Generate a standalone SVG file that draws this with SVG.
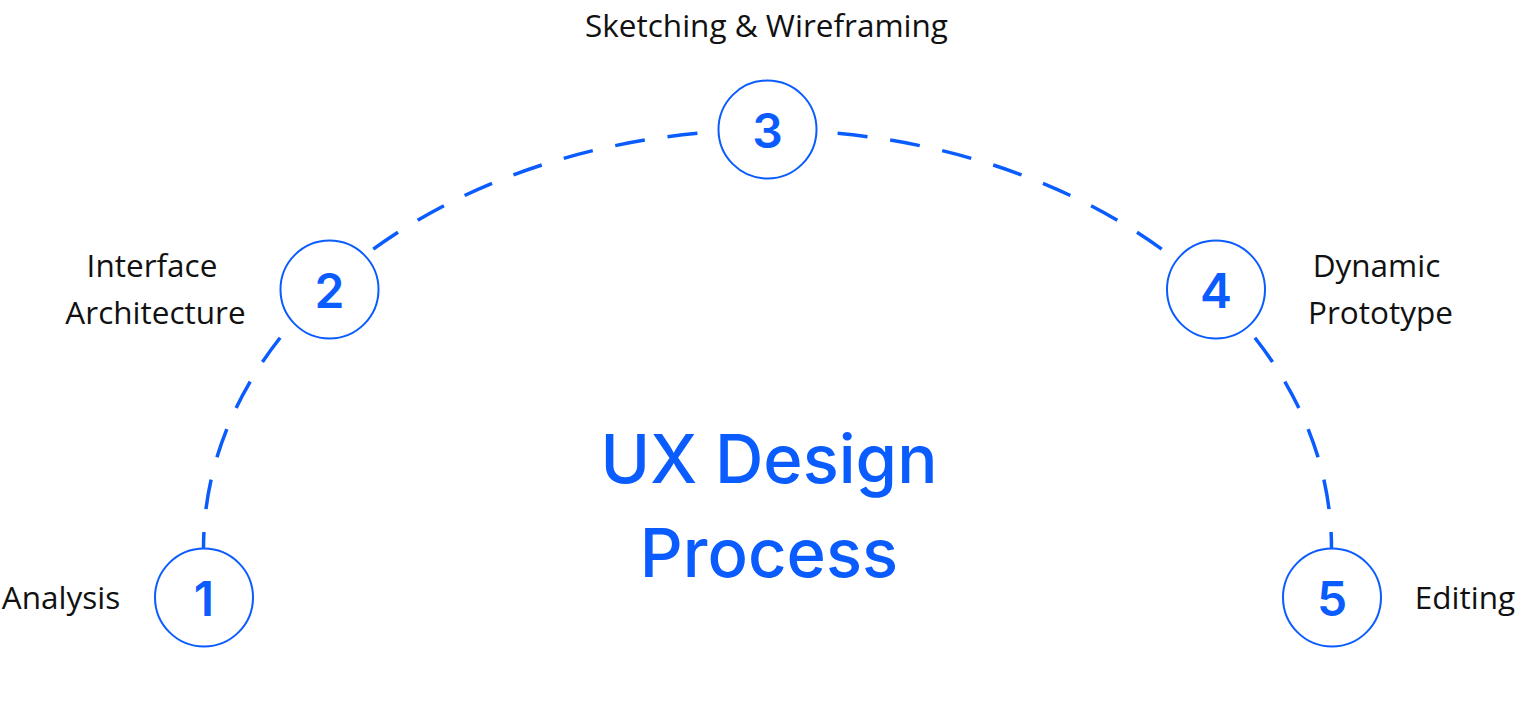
<svg xmlns="http://www.w3.org/2000/svg" width="1516" height="728" viewBox="0 0 1516 728">
  <style>
    .arc { fill: none; stroke: #0a5cff; stroke-width: 3.5; stroke-dasharray: 30 23; stroke-dashoffset: 14; }
    .node circle { fill: #ffffff; stroke: #0a5cff; stroke-width: 2; }
    .num { font-family: Inter, "Noto Sans", sans-serif; font-weight: 600; font-size: 48px; fill: #0a5cff; text-anchor: middle; }
    .label { font-family: "Open Sans", "Noto Sans", sans-serif; font-size: 31.5px; fill: #111111; text-anchor: middle; }
    .title { font-family: Inter, "Noto Sans", sans-serif; font-weight: 500; font-size: 67px; fill: #0a5cff; text-anchor: middle; }
  </style>
  <rect width="1516" height="728" fill="#ffffff"/>
  <g id="connectors">
    <path class="arc" d="M 203.5 548 A 564.5 418 0 0 1 767.5 130"/>
    <path class="arc" d="M 1331.5 548 A 564.5 418 0 0 0 767.5 130"/>
  </g>
  <g id="node1" class="node">
    <circle cx="204" cy="597.5" r="49"/>
    <text class="num" x="204" y="616">1</text>
    <text class="label" x="61" y="609">Analysis</text>
  </g>
  <g id="node2" class="node">
    <circle cx="329.5" cy="289.5" r="49"/>
    <text class="num" x="329.5" y="308">2</text>
    <text class="label" x="152" y="277">Interface</text>
    <text class="label" x="155.5" y="324">Architecture</text>
  </g>
  <g id="node3" class="node">
    <circle cx="767.5" cy="129.5" r="49"/>
    <text class="num" x="767.5" y="148">3</text>
    <text class="label" x="766.5" y="37">Sketching &amp; Wireframing</text>
  </g>
  <g id="node4" class="node">
    <circle cx="1216" cy="289.5" r="49"/>
    <text class="num" x="1216" y="308">4</text>
    <text class="label" x="1376.5" y="277">Dynamic</text>
    <text class="label" x="1380.5" y="324">Prototype</text>
  </g>
  <g id="node5" class="node">
    <circle cx="1332" cy="597.5" r="49"/>
    <text class="num" x="1332" y="616">5</text>
    <text class="label" x="1465" y="609">Editing</text>
  </g>
  <g id="title">
    <text class="title" x="769" y="483">UX Design</text>
    <text class="title" x="769" y="577">Process</text>
  </g>
</svg>
